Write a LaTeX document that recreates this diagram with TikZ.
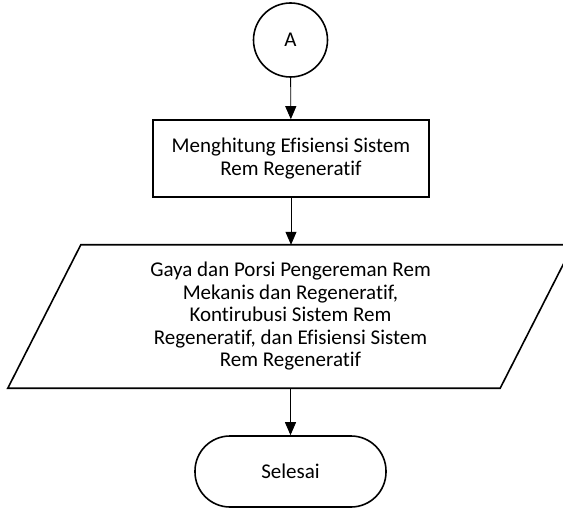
\documentclass[tikz,border=0pt]{standalone}
\usepackage{fontspec}
\setmainfont{Carlito}[Ligatures={NoCommon}]
\usetikzlibrary{arrows.meta,calc}

\tikzset{
  shapeline/.style={line width=1.6pt, black},
  flow/.style={line width=0.9pt, -{Triangle[length=13pt,width=11pt]}},
  connector/.style={circle, shapeline, draw, minimum size=74pt, inner sep=0pt},
  process/.style={rectangle, shapeline, draw, minimum width=276pt, minimum height=77pt, align=center, inner sep=0pt},
  iobox/.style={rectangle, minimum width=492pt, minimum height=143pt, align=center, inner sep=0pt},
  terminal/.style={rectangle, shapeline, draw, rounded corners=35pt, minimum width=191pt, minimum height=71pt, inner sep=0pt},
}

\begin{document}
\begin{tikzpicture}[x=1pt, y=-1pt, font=\fontsize{21}{22.5}\selectfont]
  \useasboundingbox (0,0) rectangle (563,508);

  \node[connector] (A) at (290.5,40) {A};
  \node[process] (B) at (291,158.5) {Menghitung Efisiensi Sistem\\Rem Regeneratif};
  \node[iobox] (C) at (290.5,316.5) {Gaya dan Porsi Pengereman Rem\\Mekanis dan Regeneratif,\\Kontirubusi Sistem Rem\\Regeneratif, dan Efisiensi Sistem\\Rem Regeneratif};
  \draw[shapeline] ($(C.south west)+(-36.5,0)$) -- ($(C.south east)+(-36.5,0)$)
    -- ($(C.north east)+(36.5,0)$) -- ($(C.north west)+(36.5,0)$) -- cycle;
  \node[terminal] (D) at (290.5,471.5) {Selesai};

  \draw[flow] (A) -- (B);
  \draw[flow] (B) -- (B |- C.north);
  \draw[flow] (C) -- (D);
\end{tikzpicture}
\end{document}
